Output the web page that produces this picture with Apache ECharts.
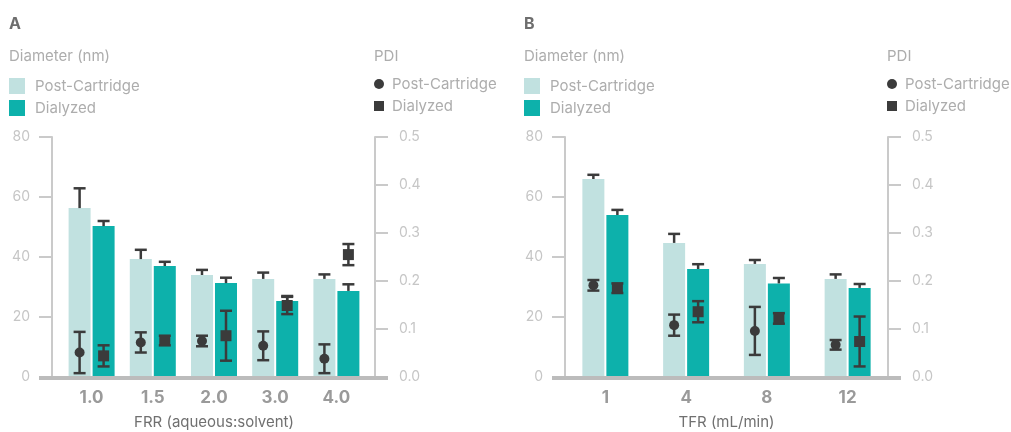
<!DOCTYPE html>
<html>
<head>
<meta charset="utf-8">
<script src="https://cdn.jsdelivr.net/npm/echarts@6/dist/echarts.min.js"></script>
<style>
  html, body { margin: 0; background: #fff; }
  #chart { width: 1011px; height: 432px; }
</style>
</head>
<body>
<div id="chart"></div>
<script>
// Panel A: FRR
const frrCats = ['1.0', '1.5', '2.0', '3.0', '4.0']
const frrDiaPost = [56.3, 39.3, 34.0, 32.7, 32.7]
const frrDiaPostSd = [6.6, 3.1, 1.7, 2.1, 1.5]
const frrDiaDial = [50.3, 37.0, 31.3, 25.3, 28.7]
const frrDiaDialSd = [1.7, 1.4, 1.8, 1.7, 2.2]
const frrPdiPost = [0.051, 0.072, 0.075, 0.065, 0.038]
const frrPdiPostSd = [0.043, 0.021, 0.011, 0.030, 0.030]
const frrPdiDial = [0.044, 0.076, 0.086, 0.149, 0.255]
const frrPdiDialSd = [0.022, 0.010, 0.052, 0.018, 0.022]

// Panel B: TFR
const tfrCats = ['1', '4', '8', '12']
const tfrDiaPost = [66.0, 44.7, 37.7, 32.7]
const tfrDiaPostSd = [1.4, 3.0, 1.3, 1.5]
const tfrDiaDial = [54.0, 36.0, 31.2, 29.7]
const tfrDiaDialSd = [1.7, 1.6, 1.8, 1.3]
const tfrPdiPost = [0.191, 0.108, 0.096, 0.067]
const tfrPdiPostSd = [0.011, 0.022, 0.050, 0.010]
const tfrPdiDial = [0.185, 0.136, 0.122, 0.074]
const tfrPdiDialSd = [0.010, 0.022, 0.011, 0.052]

const diaTicks = [0, 80, 20]      // min, max, interval
const pdiTicks = [0, 0.5, 0.1]

const LIGHT = '#c1e1e0'
const TEAL = '#0db1ab'
const INK = '#3b3b3b'
const AXIS = '#cacaca'
const FONT = 'Inter'
const BAR_W = 22
const GAP = 2
const SHIFT = (BAR_W + GAP) / 2

const panels = [
  { key: 'A', left: 61, width: 306, offL: 9, offR: 8, textLeft: 9, xName: 'FRR (aqueous:solvent)',
    cats: frrCats, dp: frrDiaPost, dps: frrDiaPostSd, dd: frrDiaDial, dds: frrDiaDialSd,
    pp: frrPdiPost, pps: frrPdiPostSd, pd: frrPdiDial, pds: frrPdiDialSd },
  { key: 'B', left: 565, width: 323, offL: 0, offR: 0, textLeft: 524, xName: 'TFR (mL/min)',
    cats: tfrCats, dp: tfrDiaPost, dps: tfrDiaPostSd, dd: tfrDiaDial, dds: tfrDiaDialSd,
    pp: tfrPdiPost, pps: tfrPdiPostSd, pd: tfrPdiDial, pds: tfrPdiDialSd }
]
const TOP = 137
const H = 240
const TICK = 13

const seg = (x1, y1, x2, y2) => ({
  type: 'line', shape: { x1, y1, x2, y2 }, style: { stroke: INK, lineWidth: 2.5 }
})

// whisker going up from the top of a bar
function barErr(shift) {
  return (params, api) => {
    const c = api.value(0)
    const v = api.value(1)
    const [x0, yTop] = api.coord([c, v])
    const yHi = api.coord([c, v + api.value(2)])[1]
    const x = x0 + shift
    return { type: 'group', children: [seg(x, yTop, x, yHi), seg(x - 6, yHi, x + 6, yHi)] }
  }
}

// PDI point with symmetric error bar
function pdiMark(shift, shape) {
  return (params, api) => {
    const c = api.value(0)
    const v = api.value(1)
    const e = api.value(2)
    const [x0, y] = api.coord([c, v])
    const yh = api.coord([c, v + e])[1]
    const yl = api.coord([c, v - e])[1]
    const x = x0 + shift
    const m = shape === 'circle'
      ? { type: 'circle', shape: { cx: x, cy: y, r: 5 }, style: { fill: INK } }
      : { type: 'rect', shape: { x: x - 5.5, y: y - 5.5, width: 11, height: 11 }, style: { fill: INK } }
    return { type: 'group', children: [seg(x, yh, x, yl), seg(x - 6, yh, x + 6, yh), seg(x - 6, yl, x + 6, yl), m] }
  }
}

const triples = (vals, sds) => vals.map((v, i) => [i, v, sds[i]])
const nameOf = n => n.split('#')[0]

const option = {
  backgroundColor: '#fff',
  textStyle: { fontFamily: FONT },
  animation: false,
  title: [], grid: [], xAxis: [], yAxis: [], series: [], legend: [], graphic: []
}

panels.forEach((p, gi) => {
  const lx = p.left - p.offL
  const rx = p.left + p.width + p.offR
  const t = { fontFamily: FONT, fontWeight: 'normal', fontSize: 15, color: '#adadad' }

  option.title.push(
    { text: p.key, left: p.textLeft, top: 16, padding: 0, textStyle: { fontFamily: FONT, fontSize: 16, fontWeight: 'bold', color: '#6e6e6e' } },
    { text: 'Diameter (nm)', left: p.textLeft, top: 49, padding: 0, textStyle: t },
    { text: 'PDI', left: rx - 1, top: 49, padding: 0, textStyle: t }
  )

  option.grid.push({ left: p.left, width: p.width, top: TOP, height: H, outerBoundsMode: 'none', containLabel: false })

  option.xAxis.push({
    type: 'category', gridIndex: gi, data: p.cats,
    axisLine: { show: false }, axisTick: { show: false },
    axisLabel: { color: '#9a9a9a', fontSize: 17, fontWeight: 'bold', margin: 12, fontFamily: FONT },
    name: p.xName, nameLocation: 'middle', nameGap: 38,
    nameTextStyle: { color: '#707070', fontSize: 15, fontFamily: FONT }
  })

  const yBase = {
    gridIndex: gi, type: 'value', splitLine: { show: false },
    axisLine: { show: true, lineStyle: { color: AXIS, width: 2 } },
    axisTick: { show: true, length: TICK, lineStyle: { color: AXIS, width: 2 } }
  }
  option.yAxis.push(
    { ...yBase, position: 'left', offset: p.offL, min: diaTicks[0], max: diaTicks[1], interval: diaTicks[2],
      axisLabel: { color: '#c6c6c6', fontSize: 14, margin: 22, fontFamily: FONT } },
    { ...yBase, position: 'right', offset: p.offR, min: pdiTicks[0], max: pdiTicks[1], interval: pdiTicks[2],
      axisLabel: { color: '#c6c6c6', fontSize: 14, margin: 24, fontFamily: FONT, formatter: v => v.toFixed(1) } }
  )

  const xi = gi
  const yDia = gi * 2
  const yPdi = gi * 2 + 1
  const n = {
    dp: 'Post-Cartridge#dia' + p.key, dd: 'Dialyzed#dia' + p.key,
    pp: 'Post-Cartridge#pdi' + p.key, pd: 'Dialyzed#pdi' + p.key
  }

  option.series.push(
    { name: n.dp, type: 'bar', xAxisIndex: xi, yAxisIndex: yDia, data: p.dp,
      barWidth: BAR_W, barGap: (GAP / BAR_W * 100) + '%', itemStyle: { color: LIGHT } },
    { name: n.dd, type: 'bar', xAxisIndex: xi, yAxisIndex: yDia, data: p.dd,
      barWidth: BAR_W, itemStyle: { color: TEAL } },
    { type: 'custom', xAxisIndex: xi, yAxisIndex: yDia, data: triples(p.dp, p.dps),
      renderItem: barErr(-SHIFT), encode: { x: 0, y: 1 }, z: 3 },
    { type: 'custom', xAxisIndex: xi, yAxisIndex: yDia, data: triples(p.dd, p.dds),
      renderItem: barErr(SHIFT), encode: { x: 0, y: 1 }, z: 3 },
    { name: n.pp, type: 'custom', xAxisIndex: xi, yAxisIndex: yPdi, data: triples(p.pp, p.pps),
      renderItem: pdiMark(-SHIFT, 'circle'), encode: { x: 0, y: 1 }, itemStyle: { color: INK }, z: 4 },
    { name: n.pd, type: 'custom', xAxisIndex: xi, yAxisIndex: yPdi, data: triples(p.pd, p.pds),
      renderItem: pdiMark(SHIFT, 'rect'), encode: { x: 0, y: 1 }, itemStyle: { color: INK }, z: 4 }
  )

  const legText = { color: '#adadad', fontSize: 15, lineHeight: 16, fontFamily: FONT, padding: [0, 0, 0, 5] }
  option.legend.push(
    { orient: 'vertical', left: p.textLeft, top: 78, padding: 0, itemWidth: 16, itemHeight: 16, itemGap: 6,
      selectedMode: false, textStyle: legText, formatter: nameOf,
      data: [{ name: n.dp, icon: 'rect', itemStyle: { color: LIGHT } },
             { name: n.dd, icon: 'rect', itemStyle: { color: TEAL } }] },
    { orient: 'vertical', left: rx - 1, top: 76, padding: 0, itemWidth: 10, itemHeight: 10, itemGap: 6,
      selectedMode: false, textStyle: { ...legText, padding: [0, 0, 0, 3] }, formatter: nameOf,
      data: [{ name: n.pp, icon: 'circle', itemStyle: { color: INK } },
             { name: n.pd, icon: 'rect', itemStyle: { color: INK } }] }
  )

  // heavy baseline spanning the outer tick ends
  option.graphic.push({
    type: 'line', z: 10,
    shape: { x1: lx - TICK, y1: TOP + H + 1, x2: rx + TICK, y2: TOP + H + 1 },
    style: { stroke: '#bcbcbc', lineWidth: 4 }
  })
})

const chart = echarts.init(document.getElementById('chart'))
chart.setOption(option)
</script>
</body>
</html>
